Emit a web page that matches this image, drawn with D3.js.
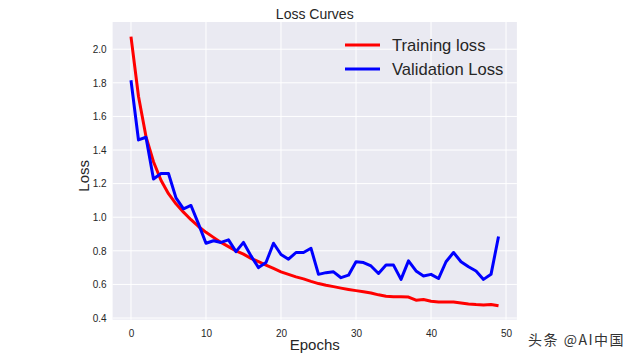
<!DOCTYPE html>
<html>
<head>
<meta charset="utf-8">
<script src="https://cdn.jsdelivr.net/npm/d3@7/dist/d3.min.js"></script>
<style>
html,body{margin:0;padding:0;background:#fff;}
svg{display:block;}
</style>
</head>
<body>
<svg id="chart" width="640" height="359"></svg>
<script>
const epochs = d3.range(0, 50);
const trainingLoss = [2.075, 1.72, 1.48, 1.33, 1.22, 1.14, 1.08, 1.03, 0.985, 0.945,
  0.91, 0.88, 0.85, 0.825, 0.80, 0.78, 0.755, 0.735, 0.715, 0.695,
  0.675, 0.66, 0.645, 0.633, 0.618, 0.605, 0.595, 0.587, 0.578, 0.57,
  0.563, 0.556, 0.549, 0.538, 0.53, 0.527, 0.526, 0.525, 0.506, 0.51,
  0.50, 0.496, 0.495, 0.495, 0.489, 0.484, 0.48, 0.478, 0.481, 0.473];
const validationLoss = [1.815, 1.46, 1.476, 1.228, 1.26, 1.26, 1.115, 1.05, 1.07, 0.96,
  0.845, 0.86, 0.85, 0.865, 0.795, 0.85, 0.77, 0.70, 0.73, 0.845,
  0.778, 0.75, 0.79, 0.79, 0.815, 0.66, 0.67, 0.675, 0.64, 0.655,
  0.735, 0.73, 0.71, 0.665, 0.715, 0.715, 0.63, 0.74, 0.68, 0.65,
  0.66, 0.635, 0.735, 0.79, 0.735, 0.705, 0.68, 0.63, 0.66, 0.885];
const xTicks = [0, 10, 20, 30, 40, 50];
const yTicks = [0.4, 0.6, 0.8, 1.0, 1.2, 1.4, 1.6, 1.8, 2.0];
const seriesNames = ["Training loss", "Validation Loss"];
const seriesColors = ["#ff0000", "#0000ff"];

const svg = d3.select("#chart");
const L = 112.6, R = 516.9, T = 22, B = 319.7;
const x = d3.scaleLinear().domain([-2.45, 51.45]).range([L, R]);
const y = d3.scaleLinear().domain([0.39, 2.162]).range([B, T]);

svg.append("rect").attr("x", L).attr("y", T).attr("width", R - L).attr("height", B - T).attr("fill", "#EAEAF2");

const tickFont = "'Liberation Sans Narrow','Arial Narrow','Liberation Sans',sans-serif";
const mainFont = "'Liberation Sans',Arial,sans-serif";

// grid
svg.append("g").selectAll("line").data(xTicks).join("line")
  .attr("x1", d => x(d)).attr("x2", d => x(d)).attr("y1", T).attr("y2", B)
  .attr("stroke", "#fff").attr("stroke-width", 1);
svg.append("g").selectAll("line").data(yTicks).join("line")
  .attr("x1", L).attr("x2", R).attr("y1", d => y(d)).attr("y2", d => y(d))
  .attr("stroke", "#fff").attr("stroke-width", 1);

// axes
const xAxis = d3.axisBottom(x).tickValues(xTicks).tickSize(0).tickPadding(10).tickFormat(d3.format("d"));
const gx = svg.append("g").attr("transform", `translate(0,${B})`).call(xAxis);
const yAxis = d3.axisLeft(y).tickValues(yTicks).tickSize(0).tickPadding(6).tickFormat(d3.format(".1f"));
const gy = svg.append("g").attr("transform", `translate(${L},0)`).call(yAxis);
[gx, gy].forEach(g => {
  g.select(".domain").remove();
  g.selectAll("text").attr("fill", "#262626").style("font-family", tickFont).style("font-size", "10px");
});

// lines
const series = [trainingLoss, validationLoss];
series.forEach((vals, i) => {
  const line = d3.line().x((d, j) => x(epochs[j])).y(d => y(d));
  svg.append("path").datum(vals).attr("d", line)
    .attr("fill", "none").attr("stroke", seriesColors[i]).attr("stroke-width", 3)
    .attr("stroke-linejoin", "round").attr("stroke-linecap", "butt");
});

// legend
const lg = svg.append("g");
seriesNames.forEach((name, i) => {
  const yy = 45 + i * 24;
  lg.append("line").attr("x1", 345).attr("x2", 380).attr("y1", yy).attr("y2", yy)
    .attr("stroke", seriesColors[i]).attr("stroke-width", 3);
  lg.append("text").attr("x", 392).attr("y", yy + 6).text(name)
    .attr("fill", "#262626").style("font-family", mainFont).style("font-size", "16.6px");
});

// title and labels
svg.append("text").attr("x", (L + R) / 2).attr("y", 19).attr("text-anchor", "middle")
  .text("Loss Curves").attr("fill", "#262626").style("font-family", mainFont).style("font-size", "14px");
svg.append("text").attr("x", (L + R) / 2).attr("y", 350).attr("text-anchor", "middle")
  .text("Epochs").attr("fill", "#262626").style("font-family", mainFont).style("font-size", "15px");
svg.append("text").attr("transform", `translate(89,${(T + B) / 2 + 5}) rotate(-90)`).attr("text-anchor", "middle")
  .text("Loss").attr("fill", "#262626").style("font-family", mainFont).style("font-size", "15px");

// watermark
svg.append("text").attr("x", 528).attr("y", 345).text("头条 @AI中国")
  .attr("fill", "#333").style("font-family", "'Noto Sans CJK SC',sans-serif").style("font-size", "14px")
  .style("letter-spacing", "1.5px");
</script>
</body>
</html>
